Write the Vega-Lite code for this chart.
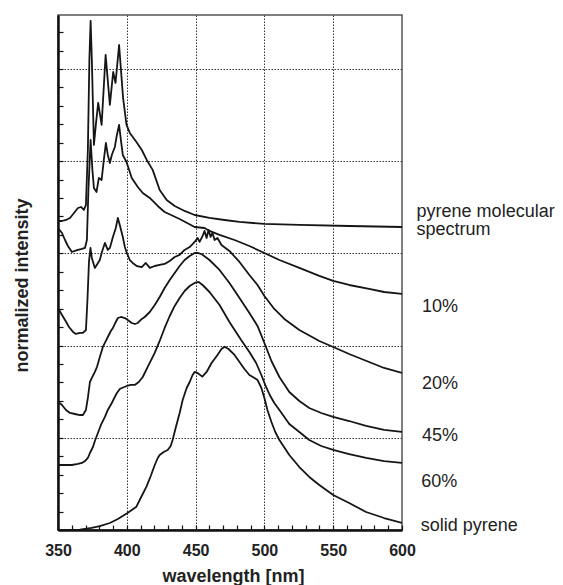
{
  "$schema": "https://vega.github.io/schema/vega-lite/v6.json",
  "autosize": "none",
  "width": 344,
  "height": 515,
  "padding": {"left": 58, "top": 15, "right": 161, "bottom": 55},
  "background": "white",
  "config": {
    "view": {"stroke": "#555", "strokeWidth": 1.5},
    "axis": {
      "domainColor": "#111", "domainWidth": 2.5,
      "tickColor": "#111", "tickWidth": 1.2, "tickSize": -5,
      "gridColor": "#333", "gridDash": [1.5, 1.5], "gridWidth": 1,
      "labelFont": "Liberation Sans", "labelFontWeight": "bold", "labelFontSize": 16, "labelColor": "#222",
      "titleFont": "Liberation Sans", "titleFontWeight": "bold", "titleFontSize": 18, "titleColor": "#222"
    }
  },
  "datasets": {
    "curves": [
      {"s":"mol","wl":350,"v":3.351},{"s":"mol","wl":352.9,"v":3.351},{"s":"mol","wl":355.8,"v":3.362},{"s":"mol","wl":358.7,"v":3.384},{"s":"mol","wl":361.6,"v":3.438},{"s":"mol","wl":364.5,"v":3.492},{"s":"mol","wl":366.7,"v":3.503},{"s":"mol","wl":368.8,"v":3.471},{"s":"mol","wl":370.3,"v":3.525},{"s":"mol","wl":371.7,"v":4.121},{"s":"mol","wl":372.8,"v":5.098},{"s":"mol","wl":373.7,"v":5.521},{"s":"mol","wl":374.6,"v":5.098},{"s":"mol","wl":376.1,"v":4.176},{"s":"mol","wl":377.5,"v":4.393},{"s":"mol","wl":379.2,"v":4.631},{"s":"mol","wl":381.7,"v":4.393},{"s":"mol","wl":384.6,"v":5.152},{"s":"mol","wl":387.7,"v":4.61},{"s":"mol","wl":390.1,"v":4.967},{"s":"mol","wl":391.8,"v":4.848},{"s":"mol","wl":394.4,"v":5.26},{"s":"mol","wl":397.3,"v":4.685},{"s":"mol","wl":399.8,"v":4.393},{"s":"mol","wl":402.2,"v":4.306},{"s":"mol","wl":407.0,"v":4.208},{"s":"mol","wl":410.9,"v":4.121},{"s":"mol","wl":414.5,"v":4.013},{"s":"mol","wl":418.8,"v":3.905},{"s":"mol","wl":423.9,"v":3.688},{"s":"mol","wl":429.0,"v":3.579},{"s":"mol","wl":434.8,"v":3.514},{"s":"mol","wl":442.0,"v":3.46},{"s":"mol","wl":449.3,"v":3.416},{"s":"mol","wl":460.1,"v":3.384},{"s":"mol","wl":471.0,"v":3.362},{"s":"mol","wl":481.9,"v":3.341},{"s":"mol","wl":500.0,"v":3.319},{"s":"mol","wl":525.4,"v":3.308},{"s":"mol","wl":561.6,"v":3.297},{"s":"mol","wl":600,"v":3.286},

      {"s":"10","wl":350,"v":3.275},{"s":"10","wl":352.9,"v":3.221},{"s":"10","wl":355.1,"v":3.145},{"s":"10","wl":357.2,"v":3.08},{"s":"10","wl":360.1,"v":3.015},{"s":"10","wl":362.3,"v":3.026},{"s":"10","wl":364.5,"v":3.037},{"s":"10","wl":367.4,"v":3.048},{"s":"10","wl":369.6,"v":3.059},{"s":"10","wl":371.0,"v":3.145},{"s":"10","wl":372.1,"v":3.688},{"s":"10","wl":373.7,"v":4.23},{"s":"10","wl":375.0,"v":3.905},{"s":"10","wl":376.1,"v":3.709},{"s":"10","wl":378.0,"v":3.666},{"s":"10","wl":379.7,"v":3.818},{"s":"10","wl":381.7,"v":3.796},{"s":"10","wl":383.3,"v":4.013},{"s":"10","wl":384.8,"v":4.197},{"s":"10","wl":386.2,"v":4.067},{"s":"10","wl":387.7,"v":3.98},{"s":"10","wl":389.1,"v":4.067},{"s":"10","wl":391.3,"v":4.154},{"s":"10","wl":392.8,"v":4.284},{"s":"10","wl":394.4,"v":4.393},{"s":"10","wl":395.7,"v":4.23},{"s":"10","wl":397.1,"v":4.067},{"s":"10","wl":399.8,"v":3.991},{"s":"10","wl":403.6,"v":3.818},{"s":"10","wl":408.0,"v":3.72},{"s":"10","wl":411.6,"v":3.655},{"s":"10","wl":416.7,"v":3.601},{"s":"10","wl":422.5,"v":3.514},{"s":"10","wl":427.5,"v":3.449},{"s":"10","wl":438.4,"v":3.373},{"s":"10","wl":449.3,"v":3.286},{"s":"10","wl":456.5,"v":3.275},{"s":"10","wl":460.1,"v":3.243},{"s":"10","wl":467.4,"v":3.2},{"s":"10","wl":478.3,"v":3.145},{"s":"10","wl":489.1,"v":3.08},{"s":"10","wl":500.0,"v":3.004},{"s":"10","wl":510.9,"v":2.928},{"s":"10","wl":525.4,"v":2.842},{"s":"10","wl":539.9,"v":2.755},{"s":"10","wl":550.0,"v":2.701},{"s":"10","wl":561.6,"v":2.657},{"s":"10","wl":576.1,"v":2.614},{"s":"10","wl":587.0,"v":2.581},{"s":"10","wl":600,"v":2.56},

      {"s":"20","wl":350,"v":2.408},{"s":"20","wl":352.9,"v":2.332},{"s":"20","wl":355.1,"v":2.278},{"s":"20","wl":358.0,"v":2.202},{"s":"20","wl":360.9,"v":2.148},{"s":"20","wl":363.0,"v":2.126},{"s":"20","wl":365.9,"v":2.137},{"s":"20","wl":368.1,"v":2.137},{"s":"20","wl":370.3,"v":2.169},{"s":"20","wl":371.4,"v":2.495},{"s":"20","wl":372.5,"v":2.907},{"s":"20","wl":373.6,"v":3.059},{"s":"20","wl":374.6,"v":2.95},{"s":"20","wl":376.8,"v":2.842},{"s":"20","wl":378.6,"v":2.885},{"s":"20","wl":380.4,"v":2.928},{"s":"20","wl":381.9,"v":3.015},{"s":"20","wl":384.1,"v":3.113},{"s":"20","wl":386.2,"v":3.037},{"s":"20","wl":387.7,"v":3.059},{"s":"20","wl":389.9,"v":3.178},{"s":"20","wl":392.0,"v":3.275},{"s":"20","wl":393.5,"v":3.384},{"s":"20","wl":394.9,"v":3.308},{"s":"20","wl":397.1,"v":3.178},{"s":"20","wl":398.6,"v":3.069},{"s":"20","wl":400.0,"v":3.004},{"s":"20","wl":402.2,"v":2.928},{"s":"20","wl":404.3,"v":2.896},{"s":"20","wl":407.2,"v":2.863},{"s":"20","wl":410.9,"v":2.852},{"s":"20","wl":413.8,"v":2.896},{"s":"20","wl":416.7,"v":2.842},{"s":"20","wl":420.3,"v":2.863},{"s":"20","wl":423.9,"v":2.874},{"s":"20","wl":427.5,"v":2.885},{"s":"20","wl":431.2,"v":2.918},{"s":"20","wl":434.8,"v":2.961},{"s":"20","wl":438.4,"v":2.983},{"s":"20","wl":442.0,"v":3.037},{"s":"20","wl":445.7,"v":3.069},{"s":"20","wl":449.3,"v":3.124},{"s":"20","wl":451.4,"v":3.167},{"s":"20","wl":452.9,"v":3.124},{"s":"20","wl":455.1,"v":3.189},{"s":"20","wl":456.5,"v":3.243},{"s":"20","wl":458.0,"v":3.167},{"s":"20","wl":459.4,"v":3.254},{"s":"20","wl":460.9,"v":3.178},{"s":"20","wl":462.3,"v":3.221},{"s":"20","wl":463.8,"v":3.145},{"s":"20","wl":465.9,"v":3.167},{"s":"20","wl":468.8,"v":3.091},{"s":"20","wl":474.6,"v":3.026},{"s":"20","wl":481.9,"v":2.907},{"s":"20","wl":489.1,"v":2.766},{"s":"20","wl":495.0,"v":2.657},{"s":"20","wl":500.0,"v":2.538},{"s":"20","wl":507.2,"v":2.397},{"s":"20","wl":514.5,"v":2.289},{"s":"20","wl":525.4,"v":2.169},{"s":"20","wl":539.9,"v":2.05},{"s":"20","wl":550.0,"v":1.985},{"s":"20","wl":561.6,"v":1.909},{"s":"20","wl":576.1,"v":1.822},{"s":"20","wl":587.0,"v":1.757},{"s":"20","wl":600,"v":1.703},

      {"s":"45","wl":350,"v":1.392},{"s":"45","wl":352.9,"v":1.356},{"s":"45","wl":355.8,"v":1.302},{"s":"45","wl":358.7,"v":1.269},{"s":"45","wl":362.3,"v":1.258},{"s":"45","wl":365.9,"v":1.247},{"s":"45","wl":368.1,"v":1.247},{"s":"45","wl":370.3,"v":1.302},{"s":"45","wl":371.7,"v":1.432},{"s":"45","wl":373.2,"v":1.605},{"s":"45","wl":374.6,"v":1.649},{"s":"45","wl":376.8,"v":1.714},{"s":"45","wl":378.3,"v":1.768},{"s":"45","wl":380.4,"v":1.876},{"s":"45","wl":382.6,"v":1.985},{"s":"45","wl":384.8,"v":2.05},{"s":"45","wl":386.2,"v":2.093},{"s":"45","wl":388.4,"v":2.158},{"s":"45","wl":389.9,"v":2.191},{"s":"45","wl":392.0,"v":2.256},{"s":"45","wl":393.5,"v":2.299},{"s":"45","wl":395.7,"v":2.31},{"s":"45","wl":398.6,"v":2.299},{"s":"45","wl":400.7,"v":2.278},{"s":"45","wl":403.6,"v":2.245},{"s":"45","wl":405.8,"v":2.234},{"s":"45","wl":408.0,"v":2.245},{"s":"45","wl":410.9,"v":2.289},{"s":"45","wl":413.0,"v":2.31},{"s":"45","wl":416.7,"v":2.364},{"s":"45","wl":420.3,"v":2.44},{"s":"45","wl":423.9,"v":2.527},{"s":"45","wl":427.5,"v":2.625},{"s":"45","wl":431.2,"v":2.711},{"s":"45","wl":434.8,"v":2.787},{"s":"45","wl":438.4,"v":2.863},{"s":"45","wl":442.0,"v":2.928},{"s":"45","wl":445.7,"v":2.972},{"s":"45","wl":449.3,"v":3.004},{"s":"45","wl":451.4,"v":3.004},{"s":"45","wl":454.3,"v":2.993},{"s":"45","wl":460.1,"v":2.928},{"s":"45","wl":467.4,"v":2.82},{"s":"45","wl":474.6,"v":2.679},{"s":"45","wl":481.9,"v":2.516},{"s":"45","wl":489.1,"v":2.354},{"s":"45","wl":495.0,"v":2.213},{"s":"45","wl":500.0,"v":2.028},{"s":"45","wl":505.1,"v":1.833},{"s":"45","wl":510.9,"v":1.659},{"s":"45","wl":518.1,"v":1.497},{"s":"45","wl":525.4,"v":1.399},{"s":"45","wl":532.6,"v":1.323},{"s":"45","wl":541.3,"v":1.269},{"s":"45","wl":550.0,"v":1.226},{"s":"45","wl":561.6,"v":1.182},{"s":"45","wl":573.9,"v":1.128},{"s":"45","wl":587.0,"v":1.085},{"s":"45","wl":600,"v":1.063},

      {"s":"60","wl":350,"v":0.705},{"s":"60","wl":355.1,"v":0.705},{"s":"60","wl":360.1,"v":0.705},{"s":"60","wl":364.5,"v":0.716},{"s":"60","wl":367.4,"v":0.727},{"s":"60","wl":369.6,"v":0.748},{"s":"60","wl":371.7,"v":0.781},{"s":"60","wl":373.2,"v":0.835},{"s":"60","wl":375.4,"v":0.9},{"s":"60","wl":376.8,"v":0.965},{"s":"60","wl":379.0,"v":1.052},{"s":"60","wl":381.2,"v":1.139},{"s":"60","wl":384.1,"v":1.226},{"s":"60","wl":386.2,"v":1.302},{"s":"60","wl":389.1,"v":1.377},{"s":"60","wl":391.3,"v":1.443},{"s":"60","wl":392.8,"v":1.486},{"s":"60","wl":394.9,"v":1.529},{"s":"60","wl":396.4,"v":1.54},{"s":"60","wl":400.0,"v":1.562},{"s":"60","wl":402.9,"v":1.573},{"s":"60","wl":405.8,"v":1.573},{"s":"60","wl":408.7,"v":1.605},{"s":"60","wl":411.6,"v":1.659},{"s":"60","wl":415.2,"v":1.768},{"s":"60","wl":420.3,"v":1.92},{"s":"60","wl":423.9,"v":2.05},{"s":"60","wl":427.5,"v":2.191},{"s":"60","wl":431.2,"v":2.321},{"s":"60","wl":434.8,"v":2.43},{"s":"60","wl":438.4,"v":2.516},{"s":"60","wl":442.0,"v":2.592},{"s":"60","wl":445.7,"v":2.646},{"s":"60","wl":449.3,"v":2.679},{"s":"60","wl":452.2,"v":2.69},{"s":"60","wl":455.1,"v":2.657},{"s":"60","wl":460.1,"v":2.581},{"s":"60","wl":467.4,"v":2.44},{"s":"60","wl":474.6,"v":2.256},{"s":"60","wl":483.1,"v":2.061},{"s":"60","wl":489.1,"v":1.931},{"s":"60","wl":494.0,"v":1.811},{"s":"60","wl":497.8,"v":1.681},{"s":"60","wl":501.2,"v":1.551},{"s":"60","wl":504.3,"v":1.453},{"s":"60","wl":507.2,"v":1.377},{"s":"60","wl":510.9,"v":1.302},{"s":"60","wl":518.1,"v":1.15},{"s":"60","wl":525.4,"v":1.063},{"s":"60","wl":532.6,"v":0.976},{"s":"60","wl":541.3,"v":0.911},{"s":"60","wl":550.0,"v":0.868},{"s":"60","wl":561.6,"v":0.824},{"s":"60","wl":573.9,"v":0.781},{"s":"60","wl":587.0,"v":0.748},{"s":"60","wl":600,"v":0.727},

      {"s":"solid","wl":350,"v":0},{"s":"solid","wl":358.7,"v":0},{"s":"solid","wl":365.9,"v":0.005},{"s":"solid","wl":374.4,"v":0.022},{"s":"solid","wl":380.4,"v":0.043},{"s":"solid","wl":387.7,"v":0.076},{"s":"solid","wl":393.5,"v":0.119},{"s":"solid","wl":400.5,"v":0.184},{"s":"solid","wl":403.6,"v":0.217},{"s":"solid","wl":407.0,"v":0.253},{"s":"solid","wl":410.1,"v":0.347},{"s":"solid","wl":414.3,"v":0.47},{"s":"solid","wl":417.4,"v":0.586},{"s":"solid","wl":420.3,"v":0.705},{"s":"solid","wl":422.5,"v":0.781},{"s":"solid","wl":423.9,"v":0.813},{"s":"solid","wl":426.8,"v":0.846},{"s":"solid","wl":429.7,"v":0.868},{"s":"solid","wl":431.9,"v":0.911},{"s":"solid","wl":433.3,"v":0.976},{"s":"solid","wl":435.5,"v":1.106},{"s":"solid","wl":438.4,"v":1.269},{"s":"solid","wl":440.6,"v":1.41},{"s":"solid","wl":443.5,"v":1.54},{"s":"solid","wl":445.7,"v":1.605},{"s":"solid","wl":447.8,"v":1.681},{"s":"solid","wl":449.3,"v":1.714},{"s":"solid","wl":451.4,"v":1.703},{"s":"solid","wl":454.9,"v":1.663},{"s":"solid","wl":458.0,"v":1.714},{"s":"solid","wl":461.6,"v":1.811},{"s":"solid","wl":465.9,"v":1.898},{"s":"solid","wl":468.8,"v":1.963},{"s":"solid","wl":471.0,"v":1.988},{"s":"solid","wl":473.9,"v":1.963},{"s":"solid","wl":478.3,"v":1.898},{"s":"solid","wl":481.9,"v":1.822},{"s":"solid","wl":485.5,"v":1.746},{"s":"solid","wl":489.1,"v":1.681},{"s":"solid","wl":492.8,"v":1.649},{"s":"solid","wl":495.0,"v":1.627},{"s":"solid","wl":497.8,"v":1.54},{"s":"solid","wl":500.0,"v":1.432},{"s":"solid","wl":502.2,"v":1.302},{"s":"solid","wl":505.1,"v":1.171},{"s":"solid","wl":507.9,"v":1.063},{"s":"solid","wl":510.9,"v":0.976},{"s":"solid","wl":518.1,"v":0.813},{"s":"solid","wl":525.4,"v":0.683},{"s":"solid","wl":532.6,"v":0.575},{"s":"solid","wl":539.9,"v":0.488},{"s":"solid","wl":550.0,"v":0.38},{"s":"solid","wl":561.6,"v":0.293},{"s":"solid","wl":573.9,"v":0.195},{"s":"solid","wl":587.0,"v":0.13},{"s":"solid","wl":600,"v":0.076}
    ],
    "labels": [
      {"wl": 610.6, "v": 3.398, "label": "pyrene molecular"},
      {"wl": 610.6, "v": 3.2, "label": "spectrum"},
      {"wl": 614.5, "v": 2.368, "label": "10%"},
      {"wl": 614.5, "v": 1.529, "label": "20%"},
      {"wl": 614.5, "v": 0.969, "label": "45%"},
      {"wl": 614.0, "v": 0.466, "label": "60%"},
      {"wl": 613.6, "v": -0.011, "label": "solid pyrene"}
    ]
  },
  "encoding": {
    "x": {
      "field": "wl", "type": "quantitative",
      "scale": {"domain": [350, 600], "zero": false, "nice": false},
      "axis": {
        "title": "wavelength [nm]",
        "values": [350,360,370,380,390,400,410,420,430,440,450,460,470,480,490,500,510,520,530,540,550,560,570,580,590,600],
        "labelExpr": "datum.value % 50 === 0 ? datum.label : ''",
        "labelOverlap": false, "labelFlush": false,
        "labelBaseline": "alphabetic", "labelPadding": 30,
        "grid": true,
        "gridOpacity": {"condition": {"test": "datum.value % 50 === 0 && datum.value > 350 && datum.value < 600", "value": 1}, "value": 0},
        "titleBaseline": "alphabetic", "titleX": 175, "titleY": 51
      }
    },
    "y": {
      "field": "v", "type": "quantitative",
      "scale": {"domain": [0, 5.585], "zero": false, "nice": false},
      "axis": {
        "title": "normalized intensity",
        "values": [0,0.2,0.4,0.6,0.8,1,1.2,1.4,1.6,1.8,2,2.2,2.4,2.6,2.8,3,3.2,3.4,3.6,3.8,4,4.2,4.4,4.6,4.8,5,5.2,5.4],
        "labels": false,
        "grid": true,
        "gridOpacity": {"condition": {"test": "datum.value % 1 === 0 && datum.value > 0", "value": 1}, "value": 0},
        "titleBaseline": "alphabetic", "titleX": -31, "titleY": 270
      }
    }
  },
  "layer": [
    {
      "data": {"name": "curves"},
      "mark": {"type": "line", "color": "#151515", "strokeWidth": 1.8, "strokeJoin": "round", "clip": true},
      "encoding": {"detail": {"field": "s"}}
    },
    {
      "data": {"name": "labels"},
      "mark": {"type": "text", "align": "left", "baseline": "alphabetic", "font": "Liberation Sans", "fontSize": 18, "color": "#222"},
      "encoding": {"text": {"field": "label"}}
    }
  ]
}
